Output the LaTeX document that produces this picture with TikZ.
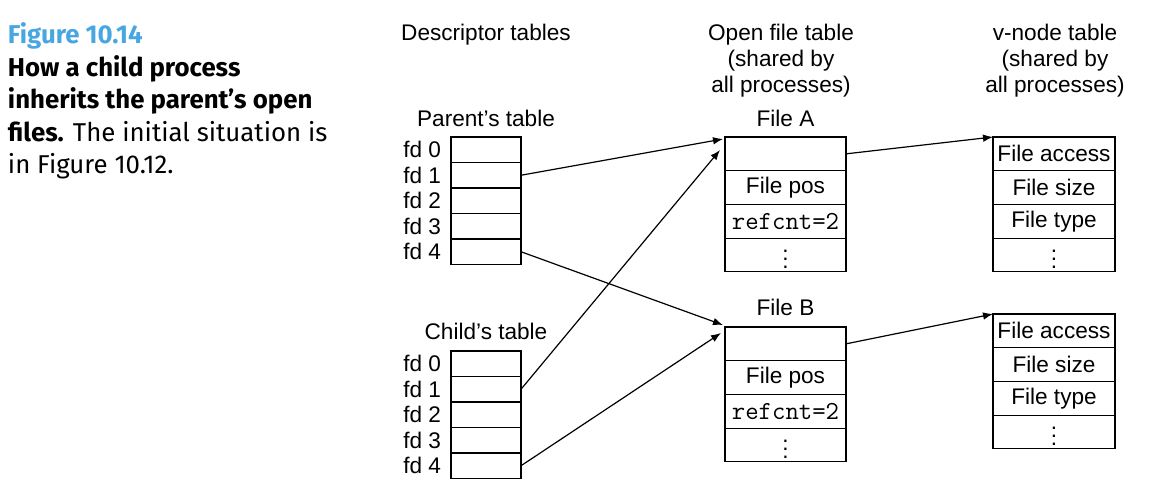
\documentclass[tikz,border=0pt]{standalone}
\usepackage{fontspec}
\setmainfont{Liberation Sans}
\newfontfamily\capfont{Fira Sans}
\usetikzlibrary{positioning,arrows.meta}
\definecolor{figblue}{RGB}{72,166,226}

\begin{document}
\begin{tikzpicture}[x=0.5pt, y=-0.5pt, node distance=0pt, outer sep=0pt, font=\fontsize{11.3}{13}\selectfont]

\tikzstyle{fdslot}=[draw, rectangle, line width=0.6pt, minimum height=12.75pt, minimum width=35pt, inner sep=0pt]
\tikzstyle{filerow}=[draw, rectangle, line width=0.6pt, minimum height=16.85pt, minimum width=60.5pt, inner sep=0pt]
\tikzstyle{vrow}=[filerow, minimum width=61pt]
\tikzstyle{head}=[inner sep=0pt, align=center]
\tikzstyle{link}=[-{Latex[length=5pt,width=3.8pt]}, line width=0.6pt]

\useasboundingbox (0,0) rectangle (1156,498);

% caption
\node[inner sep=0pt, anchor=north west, align=left, font=\capfont\fontsize{12.9}{16.25}\selectfont] (cap) at (8,23)
  {\textcolor{figblue}{\bfseries Figure 10.14}\\{\bfseries How a child process}\\{\bfseries inherits the parent’s open}\\{\bfseries files.} The initial situation is\\in Figure 10.12.};

% headings
\node[head, anchor=base] (dhead) at (486,40) {Descriptor tables};
\node[head, anchor=north] (ohead) at (781,24) {Open file table\\(shared by\\all processes)};
\node[head, anchor=north] (vhead) at (1055,24) {v-node table\\(shared by\\all processes)};

% parent's table
\node[fdslot, anchor=north west] (p0) at (451,137) {}; \node[fdslot, below=of p0] (p1) {}; \node[fdslot, below=of p1] (p2) {};
\node[fdslot, below=of p2] (p3) {}; \node[fdslot, below=of p3] (p4) {};
\node[head, above=5pt of p0] (ptab) {Parent’s table};
\node[inner sep=0pt, left=5pt of p0] {fd 0}; \node[inner sep=0pt, left=5pt of p1] {fd 1}; \node[inner sep=0pt, left=5pt of p2] {fd 2};
\node[inner sep=0pt, left=5pt of p3] {fd 3}; \node[inner sep=0pt, left=5pt of p4] {fd 4};

% child's table
\node[fdslot, anchor=north west] (c0) at (451,351) {}; \node[fdslot, below=of c0] (c1) {}; \node[fdslot, below=of c1] (c2) {};
\node[fdslot, below=of c2] (c3) {}; \node[fdslot, below=of c3] (c4) {};
\node[head, above=5.5pt of c0] (ctab) {Child’s table};
\node[inner sep=0pt, left=5pt of c0] {fd 0}; \node[inner sep=0pt, left=5pt of c1] {fd 1}; \node[inner sep=0pt, left=5pt of c2] {fd 2};
\node[inner sep=0pt, left=5pt of c3] {fd 3}; \node[inner sep=0pt, left=5pt of c4] {fd 4};

% open file table
\node[filerow, anchor=north west] (fA0) at (725,137) {}; \node[filerow, below=of fA0] (fA1) {File pos};
\node[filerow, below=of fA1] (fA2) {\ttfamily\fontsize{13}{13}\selectfont refcnt=2}; \node[filerow, below=of fA2] (fA3) {\raisebox{1.5pt}{$\vdots$}};
\node[head, above=5pt of fA0] (fAlab) {File A};
\node[filerow, anchor=north west] (fB0) at (725,327) {}; \node[filerow, below=of fB0] (fB1) {File pos};
\node[filerow, below=of fB1] (fB2) {\ttfamily\fontsize{13}{13}\selectfont refcnt=2}; \node[filerow, below=of fB2] (fB3) {\raisebox{1.5pt}{$\vdots$}};
\node[head, above=5.5pt of fB0] (fBlab) {File B};

% v-node table
\node[vrow, anchor=north west] (vA0) at (993,137) {File access}; \node[vrow, below=of vA0] (vA1) {File size};
\node[vrow, below=of vA1] (vA2) {File type}; \node[vrow, below=of vA2] (vA3) {\raisebox{1.5pt}{$\vdots$}};
\node[vrow, anchor=north west] (vB0) at (993,314) {File access}; \node[vrow, below=of vB0] (vB1) {File size};
\node[vrow, below=of vB1] (vB2) {File type}; \node[vrow, below=of vB2] (vB3) {\raisebox{1.5pt}{$\vdots$}};

% pointers
\draw[link] (p1.east) -- ([xshift=-1pt,yshift=-1pt]fA0.north west);
\draw[link] (c1.east) -- ([xshift=-2.5pt,yshift=-6.5pt]fA0.north west);
\draw[link] (p4.east) -- ([xshift=-1pt,yshift=1pt]fB0.north west);
\draw[link] (c4.east) -- ([xshift=-2pt,yshift=-3pt]fB0.north west);
\draw[link] (fA0.east) -- (vA0.north west);
\draw[link] (fB0.east) -- (vB0.north west);

\end{tikzpicture}
\end{document}
